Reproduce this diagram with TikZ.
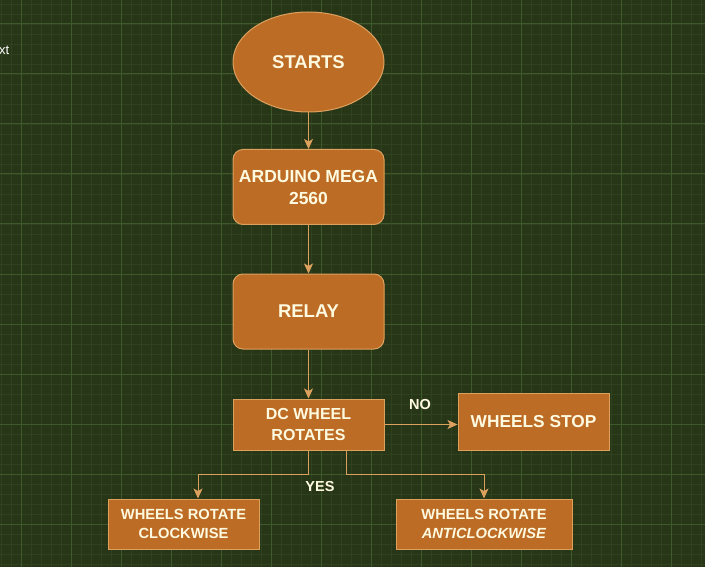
\documentclass[tikz,border=0pt]{standalone}
\usepackage{fontspec}
\setmainfont{Liberation Sans}
\usetikzlibrary{arrows.meta,shapes.geometric}
\definecolor{bg}{HTML}{283618}
\definecolor{gridminor}{HTML}{30411F}
\definecolor{gridmajor}{HTML}{3F5A2A}
\definecolor{boxfill}{HTML}{BC6C25}
\definecolor{boxline}{HTML}{DDA15E}
\definecolor{txt}{HTML}{FEFAE0}
\begin{document}
\begin{tikzpicture}[x=1pt,y=-1pt,
 box/.style={draw=boxline, fill=boxfill, text=txt, align=center, inner sep=0pt, line width=1pt},
 flow/.style={draw=boxline, line width=1pt, -{Stealth[length=10pt,width=9pt,inset=2.5pt]}},
 lbl/.style={text=txt, font=\bfseries\fontsize{14.5}{17}\selectfont}]
\fill[bg] (0,0) rectangle (705,567);
\useasboundingbox (0,0) rectangle (705,567);
\foreach \x in {1,11,...,701} \draw[gridminor,line width=0.8pt] (\x,0) -- (\x,567);
\foreach \y in {4,14,...,564} \draw[gridminor,line width=0.8pt] (0,\y) -- (705,\y);
\foreach \x in {21,71,...,701} \draw[gridmajor,line width=1pt] (\x,0) -- (\x,567);
\foreach \y in {24,74,...,564} \draw[gridmajor,line width=1pt] (0,\y) -- (705,\y);

\node[text=white, font=\fontsize{13}{15}\selectfont, anchor=west, inner sep=0pt] (txtfrag) at (-1,50) {xt};

\node[box, ellipse, minimum width=151pt, minimum height=100pt, font=\bfseries\fontsize{18.5}{22}\selectfont] (start) at (308.5,62) {STARTS};
\node[box, rectangle, rounded corners=10pt, minimum width=151pt, minimum height=75pt, font=\bfseries\fontsize{17.5}{22}\selectfont] (ard) at (308.5,187) {ARDUINO MEGA\\2560};
\node[box, rectangle, rounded corners=10pt, minimum width=151pt, minimum height=75pt, font=\bfseries\fontsize{18.5}{22}\selectfont] (relay) at (308.5,311.5) {RELAY};
\node[box, rectangle, minimum width=151pt, minimum height=51pt, font=\bfseries\fontsize{16}{21}\selectfont] (dc) at (308.5,424.5) {DC WHEEL\\ROTATES};
\node[box, rectangle, minimum width=151pt, minimum height=57pt, font=\bfseries\fontsize{17.3}{21}\selectfont] (stop) at (533.5,421.5) {WHEELS STOP};
\node[box, rectangle, minimum width=151pt, minimum height=50pt, font=\bfseries\fontsize{14.7}{19}\selectfont] (cw) at (183.5,524) {WHEELS ROTATE\\CLOCKWISE};
\node[box, rectangle, minimum width=176pt, minimum height=50pt, font=\bfseries\fontsize{14.7}{19}\selectfont] (acw) at (484,524) {WHEELS ROTATE\\\textit{ANTICLOCKWISE}};

\draw[flow] (start) -- (ard);
\draw[flow] (ard) -- (relay);
\draw[flow] (relay) -- (dc);
\draw[flow] (dc.east) -- (stop.west |- dc.east);
\draw[flow] (dc.south) -- ++(0,24) -| ([xshift=14.5pt]cw.north);
\draw[flow] ([xshift=37.5pt]dc.south) -- ++(0,24) -| (acw.north);

\node[lbl] (no) at (420,405) {NO};
\node[lbl] (yes) at (320,487) {YES};
\end{tikzpicture}
\end{document}
